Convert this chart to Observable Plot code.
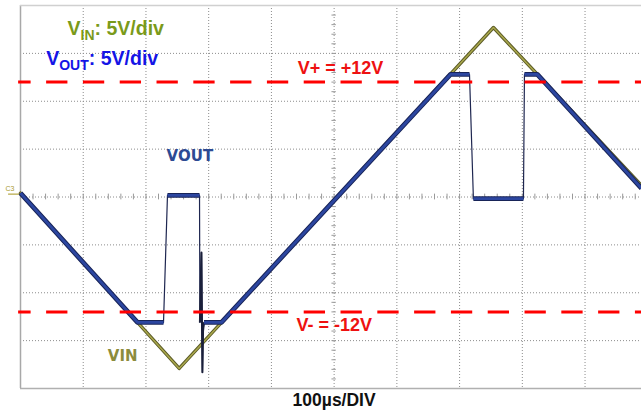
<!DOCTYPE html>
<html><head><meta charset="utf-8">
<script src="https://cdn.jsdelivr.net/npm/d3@7"></script>
<script src="https://cdn.jsdelivr.net/npm/@observablehq/plot@0.6"></script>
<style>html,body{margin:0;padding:0;background:#fff;} svg{display:block;}</style>
</head><body><div id="chart"></div>
<script>
// Input triangle (time in µs, volts)
const vinTime  = [0, 253, 754, 990];
const vinVolts = [0.4, -17.9, 17.7, 1.2];

// Output trace (time in µs, volts)
const voutTime  = [0, 186.5, 228, 234.3, 285.4, 286, 288.5, 289.4, 290, 291, 292.5, 320.4, 685.5, 715.8, 722, 801.8, 803.4, 824, 990];
const voutVolts = [0.4, -13.1, -13.1, 0.16, 0.16, -13.1, -5.8, -13.9, -18.3, -14, -13.1, -13.1, 12.8, 12.8, -0.16, -0.16, 12.8, 12.8, 0.9];

// Supply rails
const railVolts = [12, -12];

// Grid divisions (100 µs/div, 5 V/div)
const gridTimes = [100, 200, 300, 400, 500, 600, 700, 800, 900];
const gridVolts = [-15, -10, -5, 0, 5, 10, 15];
const minorTimes = d3.range(0, 991, 20);
const minorVolts = d3.range(-20, 21, 1);

// Text
const railLabels = ["V+ = +12V", "V- = -12V"];
const railLabelTime = [442, 440];
const railLabelVolts = [13.5, -13.4];
const legendLabels = ["VIN: 5V/div", "VOUT: 5V/div"];
const legendTime = [75, 41];
const legendVolts = [17.6, 14.4];
const traceLabels = ["VOUT", "VIN"];
const traceLabelTime = [270, 163];
const traceLabelVolts = [4.3, -16.6];
const xLabel = "100µs/DIV";

const vin = vinTime.map((t, i) => ({t, v: vinVolts[i]}));
const vout = voutTime.map((t, i) => ({t, v: voutVolts[i]}));
// thick (slow) portions of VOUT: break where the trace moves fast (edges)
const voutThick = [];
vout.forEach((p, i) => {
  voutThick.push(p);
  const q = vout[i + 1];
  if (q && Math.abs((q.v - p.v) / (q.t - p.t)) > 0.5) voutThick.push({t: p.t, v: NaN});
});
// glitch portion (ringing after the falling edge)
const voutGlitch = vout.filter(p => p.t >= 286 && p.t <= 292.5);

const chart = Plot.plot({
  width: 641, height: 417,
  marginLeft: 20, marginRight: 0, marginTop: 5, marginBottom: 29,
  x: {domain: [0, 990], axis: null},
  y: {domain: [-20, 20], axis: null},
  style: {fontFamily: "Liberation Sans, Arial, sans-serif", background: "#fff"},
  marks: [
    Plot.ruleX(gridTimes, {stroke: "#8c8c8c", strokeDasharray: "1,2", strokeWidth: 1}),
    Plot.ruleY(gridVolts, {stroke: "#8c8c8c", strokeDasharray: "1,2", strokeWidth: 1}),
    Plot.ruleX(minorTimes, {x: d => d, y1: -0.3, y2: 0.3, stroke: "#999"}),
    Plot.ruleY(minorVolts, {y: d => d, x1: 496.5, x2: 503.5, stroke: "#999"}),
    Plot.ruleX([0], {stroke: "#a8a8a8", strokeWidth: 1.5}),
    Plot.ruleY([-20], {stroke: "#b0b0b0", strokeWidth: 1.5}),
    Plot.ruleY([20], {stroke: "#d0d0d0", strokeWidth: 1.5}),
    // channel marker
    Plot.ruleY([0.3], {x1: -19, x2: -1, stroke: "#b4a640", strokeWidth: 1.2}),
    Plot.text(["C3"], {x: 0, y: 0.9, dx: -6, fontSize: 7, fill: "#a89a30", textAnchor: "end"}),
    // VIN
    Plot.line(vin, {x: "t", y: "v", stroke: "#5a5a26", strokeWidth: 3.4}),
    Plot.line(vin, {x: "t", y: "v", stroke: "#aaa84c", strokeWidth: 1.5}),
    // VOUT
    Plot.line(vout, {x: "t", y: "v", stroke: "#1e2650", strokeWidth: 1.2, strokeLinecap: "butt"}),
    Plot.line(voutGlitch, {x: "t", y: "v", stroke: "#1a1f3a", strokeWidth: 2, strokeLinecap: "butt"}),
    Plot.line(voutThick, {x: "t", y: "v", stroke: "#182458", strokeWidth: 4.8, strokeLinecap: "butt"}),
    Plot.line(voutThick, {x: "t", y: "v", stroke: "#2c46a0", strokeWidth: 2.8, strokeLinecap: "butt"}),
    // rails
    Plot.ruleY(railVolts, {x1: -3, x2: 990, stroke: "#ff0000", strokeWidth: 3, strokeDasharray: "21.3,15.5", strokeDashoffset: 8.8}),
    Plot.text(railLabels, {x: (d, i) => railLabelTime[i], y: (d, i) => railLabelVolts[i], text: d => d, textAnchor: "start", fill: "#ee1111", fontSize: 18, fontWeight: "bold"}),
    Plot.text(legendLabels, {x: (d, i) => legendTime[i], y: (d, i) => legendVolts[i], text: d => d, textAnchor: "start", fill: (d, i) => i === 0 ? "#7a9a1a" : "#1414e6", fontSize: 19.5, fontWeight: "bold"}),
    Plot.text(traceLabels, {x: (d, i) => traceLabelTime[i], y: (d, i) => traceLabelVolts[i], text: d => d, fill: (d, i) => i === 0 ? "#2d4a93" : "#8c8c3c", fontSize: 15, fontWeight: "bold", fontFamily: "DejaVu Sans"}),
    Plot.text([xLabel], {x: 500, frameAnchor: "bottom", dy: 17, text: d => d, fill: "#111", fontSize: 17.5, fontWeight: "bold"})
  ]
});

// subscripts in legend labels
d3.select(chart).selectAll("text").each(function() {
  const s = this.textContent;
  const m = s.match(/^V(IN|OUT)(: 5V\/div)$/);
  if (!m) return;
  const el = d3.select(this);
  el.text(null);
  el.append("tspan").text("V");
  el.append("tspan").attr("font-size", 14).attr("dy", 5).text(m[1]);
  el.append("tspan").attr("font-size", 19.5).attr("dy", -5).text(m[2]);
});

document.getElementById("chart").append(chart);
</script>
</body></html>
